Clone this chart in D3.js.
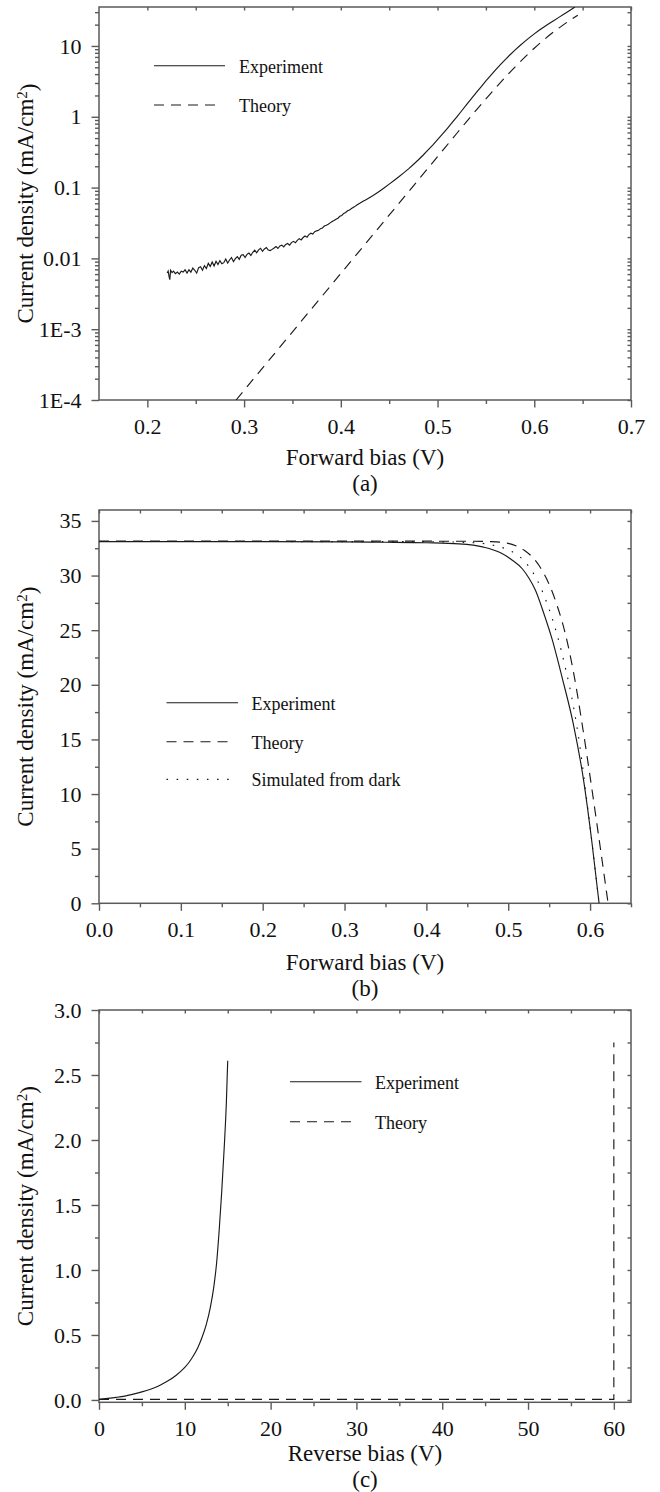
<!DOCTYPE html>
<html>
<head>
<meta charset="utf-8">
<script src="https://cdn.jsdelivr.net/npm/d3@7"></script>
<style>
  body { margin: 0; background: #fff; }
  svg { display: block; font-family: "Liberation Serif", "Times New Roman", serif; }
</style>
</head>
<body>
<svg id="fig" width="660" height="1492"></svg>
<script>
// ---------- (a) dark J-V, log scale: [forward bias V, current density mA/cm2] ----------
const darkExperiment = [
  [0.2205, 0.0062], [0.2215, 0.0066], [0.2225, 0.0055], [0.2232, 0.0050], [0.2240, 0.0068],
  [0.2255, 0.0063], [0.2270, 0.0066], [0.2290, 0.0061], [0.2310, 0.0064], [0.2330, 0.0060],
  [0.2350, 0.0066], [0.2370, 0.0064], [0.2390, 0.0069], [0.2410, 0.0062], [0.2430, 0.0069],
  [0.2450, 0.0064], [0.2470, 0.0073], [0.2490, 0.0068], [0.2510, 0.0062], [0.2530, 0.0074],
  [0.2550, 0.0076], [0.2570, 0.0068], [0.2590, 0.0079], [0.2610, 0.0072], [0.2630, 0.0085],
  [0.2650, 0.0077], [0.2670, 0.0089], [0.2690, 0.0078], [0.2710, 0.0091], [0.2730, 0.0082],
  [0.2750, 0.0093], [0.2770, 0.0084], [0.2790, 0.0087], [0.2810, 0.0098], [0.2830, 0.0086],
  [0.2850, 0.0095], [0.2870, 0.0103], [0.2890, 0.0090], [0.2910, 0.0099], [0.2930, 0.0106],
  [0.2950, 0.0097], [0.2970, 0.0111], [0.2990, 0.0113], [0.3010, 0.0103], [0.3030, 0.0114],
  [0.3050, 0.0119], [0.3070, 0.0110], [0.3090, 0.0122], [0.3110, 0.0131], [0.3130, 0.0120],
  [0.3150, 0.0132], [0.3170, 0.0139], [0.3190, 0.0126], [0.3210, 0.0136], [0.3230, 0.0142],
  [0.3250, 0.0131], [0.3270, 0.0129], [0.3290, 0.0134], [0.3310, 0.0140], [0.3330, 0.0147],
  [0.3350, 0.0138], [0.3370, 0.0150], [0.3390, 0.0154], [0.3410, 0.0145], [0.3430, 0.0157],
  [0.3450, 0.0162], [0.3470, 0.0154], [0.3490, 0.0167], [0.3510, 0.0174], [0.3530, 0.0166],
  [0.3550, 0.0180], [0.3570, 0.0190], [0.3590, 0.0182], [0.3610, 0.0197], [0.3630, 0.0207],
  [0.3650, 0.0199], [0.3670, 0.0217], [0.3690, 0.0227], [0.3710, 0.0220], [0.3730, 0.0238],
  [0.3750, 0.0245], [0.3770, 0.0249], [0.3790, 0.0263], [0.3810, 0.0269], [0.3830, 0.0286],
  [0.3850, 0.0294], [0.3870, 0.0303], [0.3890, 0.0317], [0.3910, 0.0331], [0.3930, 0.0344],
  [0.3950, 0.0356], [0.3970, 0.0369], [0.3990, 0.0393], [0.4010, 0.0404], [0.4030, 0.0431],
  [0.4050, 0.0444], [0.4070, 0.0471], [0.4090, 0.0481], [0.4110, 0.0506], [0.4140, 0.0534],
  [0.4170, 0.0571], [0.4200, 0.0604], [0.4230, 0.0641], [0.4260, 0.0672], [0.4300, 0.0725],
  [0.4350, 0.0800], [0.4400, 0.0890], [0.4450, 0.0995], [0.4500, 0.112], [0.4550, 0.126],
  [0.4600, 0.142], [0.4650, 0.161], [0.4700, 0.184], [0.4750, 0.212], [0.4800, 0.245],
  [0.4850, 0.286], [0.4900, 0.337], [0.4950, 0.398], [0.5000, 0.474], [0.5050, 0.568],
  [0.5100, 0.682], [0.5150, 0.824], [0.5200, 1.00], [0.5250, 1.216], [0.5300, 1.479],
  [0.5350, 1.80], [0.5400, 2.19], [0.5450, 2.65], [0.5500, 3.21], [0.5550, 3.85],
  [0.5600, 4.60], [0.5650, 5.46], [0.5700, 6.43], [0.5750, 7.52], [0.5800, 8.73],
  [0.5850, 10.07], [0.5900, 11.53], [0.5950, 13.12], [0.6000, 14.83], [0.6050, 16.63],
  [0.6100, 18.54], [0.6150, 20.56], [0.6200, 22.75], [0.6250, 25.12], [0.6300, 27.73],
  [0.6350, 30.69], [0.6405, 34.4], [0.6420, 35.6]
];
const darkTheory = [
  [0.2917, 1.0e-4], [0.40, 6.12e-3], [0.50, 0.273], [0.52, 0.585], [0.53, 0.855],
  [0.54, 1.242], [0.55, 1.79], [0.56, 2.56], [0.57, 3.61], [0.58, 5.04], [0.59, 6.90],
  [0.60, 9.29], [0.61, 12.24], [0.62, 15.78], [0.63, 19.86], [0.64, 24.55], [0.645, 27.2]
];
const darkTickValues = [1e-4, 1e-3, 0.01, 0.1, 1, 10];
const darkTickLabels = ["1E-4", "1E-3", "0.01", "0.1", "1", "10"];

// ---------- (b) illuminated J-V: [forward bias V, current density mA/cm2] ----------
const lightExperiment = [
  [0, 33.1], [0.1, 33.1], [0.2, 33.1], [0.3, 33.08], [0.35, 33.05], [0.4, 33.0],
  [0.44, 32.9], [0.47, 32.6], [0.49, 32.1], [0.505, 31.4], [0.5174, 30.6], [0.525, 29.8],
  [0.533, 28.7], [0.5432, 26.6], [0.5535, 24.2], [0.5664, 20.5], [0.5793, 16.5],
  [0.592, 11.3], [0.6024, 5.5], [0.611, 0]
];
const lightTheory = [
  [0, 33.15], [0.3, 33.15], [0.45, 33.14], [0.48, 33.1], [0.50, 32.95], [0.51, 32.7],
  [0.52, 32.3], [0.53, 31.65], [0.54, 30.65], [0.55, 29.2], [0.56, 27.2], [0.57, 24.6],
  [0.58, 21.05], [0.59, 16.55], [0.60, 11.6], [0.61, 6.4], [0.622, 0]
];
const lightSimulated = [
  [0, 33.12], [0.4, 33.1], [0.46, 33.0], [0.48, 32.8], [0.50, 32.35], [0.51, 31.95],
  [0.52, 31.3], [0.53, 30.3], [0.54, 28.85], [0.55, 26.9], [0.56, 24.5], [0.57, 21.5],
  [0.58, 17.9], [0.5875, 14.4], [0.595, 10.0], [0.6024, 5.5], [0.611, 0]
];

// ---------- (c) reverse J-V: [reverse bias V, current density mA/cm2] ----------
const reverseExperiment = [
  [0, 0.005], [1, 0.012], [2, 0.02], [3, 0.03], [4, 0.045], [5, 0.062], [6, 0.083],
  [7, 0.11], [8, 0.145], [9, 0.19], [10, 0.25], [10.5, 0.29], [11, 0.34], [11.5, 0.40],
  [12, 0.48], [12.5, 0.58], [13, 0.72], [13.4, 0.88], [13.7, 1.05], [14.0, 1.3],
  [14.3, 1.6], [14.6, 1.95], [14.85, 2.3], [15.0, 2.61]
];
const reverseTheory = [[0, 0.005], [60, 0.005], [60, 2.75]];

// ---------- drawing ----------
const svg = d3.select("#fig");
const LEFT = 99, RIGHT = 631;
const AXIS_COLOR = "#5a5a5a";
const INK = "#1a1a1a";
const DASH = "10,7";
const DOT = "1.6,8.5";

function range(start, stop, step) {
  const out = [];
  for (let v = start; v <= stop + step * 1e-6; v += step) out.push(+v.toFixed(6));
  return out;
}

function styleAxis(sel) {
  sel.select(".domain").remove();
  sel.selectAll("line").attr("stroke", AXIS_COLOR).attr("stroke-width", 1.4);
  sel.selectAll("text").attr("fill", "#111").attr("font-size", 22)
     .attr("font-family", "'Liberation Serif', 'Times New Roman', serif");
}

function drawPanel(cfg) {
  const g = svg.append("g");
  const x = d3.scaleLinear().domain(cfg.xDomain).range([LEFT, RIGHT]);
  const y = (cfg.log ? d3.scaleLog() : d3.scaleLinear()).domain(cfg.yDomain).range([cfg.bottom, cfg.top]);

  const clipId = "clip-" + cfg.id;
  svg.append("clipPath").attr("id", clipId).append("rect")
    .attr("x", LEFT).attr("y", cfg.top).attr("width", RIGHT - LEFT).attr("height", cfg.bottom - cfg.top);

  // inner ticks along the top and right edges
  g.append("g").attr("transform", `translate(0,${cfg.top})`)
    .call(d3.axisTop(x).tickValues(cfg.xMajor.concat(cfg.xMinor)).tickSize(-3.5).tickFormat(""))
    .call(styleAxis);
  g.append("g").attr("transform", `translate(${RIGHT},0)`)
    .call(d3.axisRight(y).tickValues(cfg.yMajor.concat(cfg.yMinor)).tickSize(-3.5).tickFormat(""))
    .call(styleAxis);

  // bottom axis
  g.append("g").attr("transform", `translate(0,${cfg.bottom})`)
    .call(d3.axisBottom(x).tickValues(cfg.xMinor).tickSize(4).tickFormat(""))
    .call(styleAxis);
  g.append("g").attr("transform", `translate(0,${cfg.bottom})`)
    .call(d3.axisBottom(x).tickValues(cfg.xMajor).tickSize(7.5).tickPadding(11).tickFormat(cfg.xFormat))
    .call(styleAxis);

  // left axis
  g.append("g").attr("transform", `translate(${LEFT},0)`)
    .call(d3.axisLeft(y).tickValues(cfg.yMinor).tickSize(4).tickFormat(""))
    .call(styleAxis);
  g.append("g").attr("transform", `translate(${LEFT},0)`)
    .call(d3.axisLeft(y).tickValues(cfg.yMajor).tickSize(7.5).tickPadding(10).tickFormat(cfg.yFormat))
    .call(styleAxis);

  // frame
  g.append("rect")
    .attr("x", LEFT).attr("y", cfg.top)
    .attr("width", RIGHT - LEFT).attr("height", cfg.bottom - cfg.top)
    .attr("fill", "none").attr("stroke", AXIS_COLOR).attr("stroke-width", 1.5);

  // curves
  const plot = g.append("g").attr("clip-path", `url(#${clipId})`);
  cfg.series.forEach(s => {
    const line = d3.line().x(d => x(d[0])).y(d => y(d[1])).curve(s.curve || d3.curveLinear);
    plot.append("path").datum(s.data)
      .attr("d", line)
      .attr("fill", "none")
      .attr("stroke", INK)
      .attr("stroke-width", 1.15)
      .attr("stroke-dasharray", s.dash || null);
  });

  // legend
  cfg.legend.forEach(item => {
    g.append("line")
      .attr("x1", item.x1).attr("x2", item.x2).attr("y1", item.y).attr("y2", item.y)
      .attr("stroke", INK).attr("stroke-width", 1.15)
      .attr("stroke-dasharray", item.dash || null);
    g.append("text")
      .attr("x", item.tx).attr("y", item.y + 7)
      .attr("font-size", 18).attr("fill", "#111")
      .text(item.label);
  });

  // axis titles
  g.append("text")
    .attr("x", (LEFT + RIGHT) / 2).attr("y", cfg.xTitleY)
    .attr("text-anchor", "middle").attr("font-size", 23).attr("fill", "#111")
    .text(cfg.xTitle);
  g.append("text")
    .attr("x", (LEFT + RIGHT) / 2).attr("y", cfg.xTitleY + 26.6)
    .attr("text-anchor", "middle").attr("font-size", 23).attr("fill", "#111")
    .text(cfg.tag);

  const yt = g.append("text")
    .attr("transform", `translate(33,${(cfg.top + cfg.bottom) / 2}) rotate(-90)`)
    .attr("text-anchor", "middle").attr("font-size", 23).attr("fill", "#111");
  yt.append("tspan").text("Current density (mA/cm");
  yt.append("tspan").attr("dy", "-0.42em").attr("font-size", 15).text("2");
  yt.append("tspan").attr("dy", "0.42em").text(")");
}

// (a) dark characteristics on a log scale
const logMinor = [];
[1e-4, 1e-3, 1e-2, 1e-1, 1, 10].forEach(dec => {
  for (let k = 2; k <= 9; k++) { const v = k * dec; if (v <= 35.5) logMinor.push(v); }
});
const labelOf = v => darkTickLabels[darkTickValues.indexOf(v)];

drawPanel({
  id: "a", top: 7, bottom: 400, log: true,
  xDomain: [0.15, 0.7], yDomain: [1e-4, 35.5],
  xMajor: range(0.2, 0.7, 0.1), xMinor: range(0.25, 0.65, 0.1),
  yMajor: darkTickValues, yMinor: logMinor,
  xFormat: d3.format(".1f"), yFormat: labelOf,
  series: [
    { data: darkExperiment },
    { data: darkTheory, dash: DASH, curve: d3.curveMonotoneX }
  ],
  legend: [
    { x1: 154, x2: 225, y: 65.7, tx: 239, label: "Experiment" },
    { x1: 154, x2: 215, y: 105, tx: 239, label: "Theory", dash: DASH }
  ],
  xTitle: "Forward bias (V)", xTitleY: 464.5, tag: "(a)"
});

// (b) illuminated characteristics
drawPanel({
  id: "b", top: 510, bottom: 903.3, log: false,
  xDomain: [0, 0.65], yDomain: [0, 36],
  xMajor: range(0, 0.6, 0.1), xMinor: range(0.05, 0.65, 0.1),
  yMajor: range(0, 35, 5), yMinor: range(2.5, 32.5, 5),
  xFormat: d3.format(".1f"), yFormat: d3.format("d"),
  series: [
    { data: lightExperiment, curve: d3.curveMonotoneX },
    { data: lightTheory, dash: DASH, curve: d3.curveMonotoneX },
    { data: lightSimulated, dash: DOT, curve: d3.curveMonotoneX }
  ],
  legend: [
    { x1: 166.5, x2: 238, y: 702.7, tx: 251.5, label: "Experiment" },
    { x1: 166.5, x2: 227.5, y: 741.7, tx: 251.5, label: "Theory", dash: DASH },
    { x1: 166.5, x2: 230, y: 779.3, tx: 251.5, label: "Simulated from dark", dash: DOT }
  ],
  xTitle: "Forward bias (V)", xTitleY: 969.5, tag: "(b)"
});

// (c) reverse characteristics
drawPanel({
  id: "c", top: 1010, bottom: 1402.3, log: false,
  xDomain: [0, 62], yDomain: [-0.018, 3.0],
  xMajor: range(0, 60, 10), xMinor: range(5, 55, 10),
  yMajor: range(0, 3, 0.5), yMinor: range(0.25, 2.75, 0.5),
  xFormat: d3.format("d"), yFormat: d3.format(".1f"),
  series: [
    { data: reverseExperiment, curve: d3.curveMonotoneX },
    { data: reverseTheory, dash: DASH }
  ],
  legend: [
    { x1: 290, x2: 361.5, y: 1081.7, tx: 375, label: "Experiment" },
    { x1: 290, x2: 352, y: 1121.7, tx: 375, label: "Theory", dash: DASH }
  ],
  xTitle: "Reverse bias (V)", xTitleY: 1460.8, tag: "(c)"
});
</script>
</body>
</html>
